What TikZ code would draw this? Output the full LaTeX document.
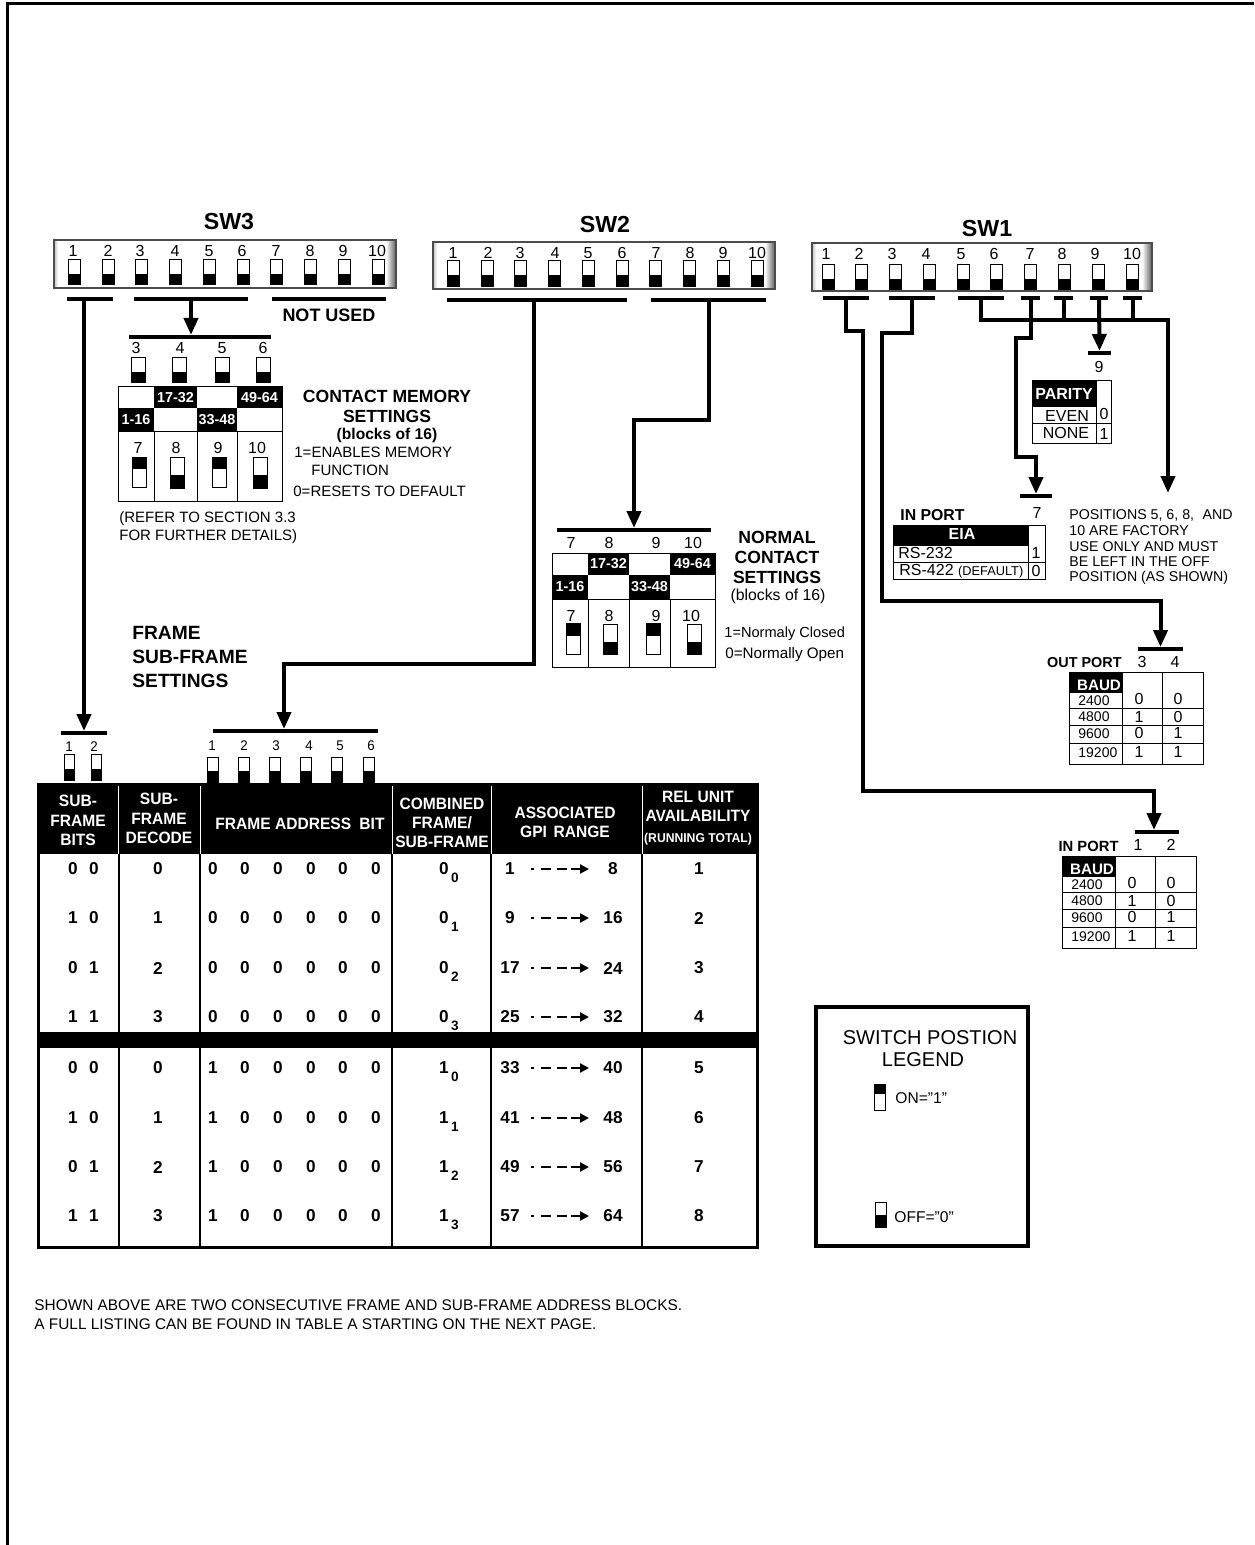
\documentclass[tikz,border=0pt]{standalone}
\usepackage{fontspec}
\setmainfont{Liberation Sans}
\newfontfamily\narrowfont[FakeStretch=0.95]{Liberation Sans}
\usetikzlibrary{arrows.meta}

\tikzset{
	wire/.style={line width=2pt},
	wirearrow/.style={line width=2pt,-{Triangle[length=8.5pt,width=7pt]}},
	thinbox/.style={line width=0.5pt},
	bigtitle/.style={font=\fontsize{11.6}{13}\selectfont\bfseries},
	headtxt/.style={font=\fontsize{8.8}{10}\selectfont\bfseries,align=center},
	labeltxt/.style={font=\fontsize{7.5}{9}\selectfont,anchor=west,inner sep=0},
	factorytxt/.style={font=\fontsize{7.1}{8}\selectfont,anchor=west,inner sep=0},
	notetxt/.style={font=\fontsize{7.7}{9}\selectfont,anchor=west,inner sep=0},
	numtxt/.style={font=\fontsize{8}{9}\selectfont,inner sep=0},
	tinynum/.style={font=\narrowfont\fontsize{7}{8}\selectfont,inner sep=0},
	celltxt/.style={font=\fontsize{7.2}{8}\selectfont\bfseries,text=white,inner sep=0},
	tablehead/.style={font=\narrowfont\fontsize{8.2}{9.6}\selectfont\bfseries,text=white,align=center,inner sep=0},
	tableval/.style={font=\fontsize{8.6}{10}\selectfont\bfseries,inner sep=0},
	tablesub/.style={font=\fontsize{6.8}{9}\selectfont\bfseries,inner sep=0},
	gpiarrow/.style={line width=1.2pt,dash pattern=on 1.5pt off 3.5pt on 5pt off 3pt on 5pt off 2pt on 10pt,-{Triangle[length=4.5pt,width=4.5pt]}},
}

% bus bar: name, x1, x2, y
\newcommand{\busbar}[4]{\node[fill=black,inner sep=0,outer sep=0,minimum height=2pt,minimum width={(#3-#2)*0.5pt}] (#1) at ({(#2+#3)/2},#4) {};}
% switches: x, y top, y edge of black, y bottom, half width
\newcommand{\swoff}[5]{\draw[thinbox,fill=white] (#1-#5,#2) rectangle (#1+#5,#4);\fill (#1-#5,#3) rectangle (#1+#5,#4);}
\newcommand{\swon}[5]{\draw[thinbox,fill=white] (#1-#5,#2) rectangle (#1+#5,#4);\fill (#1-#5,#2) rectangle (#1+#5,#3);}
% panel with shaded right end
\newcommand{\swpanel}[4]{
	\fill[white] (#1,#2) rectangle (#3,#4);
	\shade[left color=white,right color=black!65] (#3-10,#2) rectangle (#3,#4);
	\shade[left color=black!25,right color=white] (#1,#2) rectangle (#1+4,#4);
	\draw[line width=0.6pt,black!70] (#1,#2) rectangle (#3,#4);
}

\begin{document}
\begin{tikzpicture}[x=0.5pt,y=-0.5pt]
	\useasboundingbox (0,0) rectangle (1254,1545);
	\draw[line width=1.5pt] (7,1545) -- (7,4) -- (1254,4);

	% SW3
	\node[bigtitle] (titleSWiii) at (229,222) {SW3};
	\swpanel{54}{240}{396}{288}
	\foreach \n/\lx/\sx in {1/73/74,2/108/108,3/140/141,4/175/175,5/209/209,6/242/243,7/276/276,8/310/310,9/343/344,10/377/378}{
		\node[numtxt] (swiiin\n) at (\lx,251) {\n};
		\swoff{\sx}{260}{274}{285}{6}
	}
	\busbar{busSubA}{67}{113}{299}
	\busbar{busMemA}{134}{248}{299}
	\busbar{busUnused}{272}{386}{299}
	\node[font=\fontsize{9}{10}\selectfont\bfseries,inner sep=0] (notused) at (329,315) {NOT USED};

	\busbar{busMemB}{129}{271}{337}
	\foreach \n/\lx/\sx in {3/136/138,4/180/179,5/222/222,6/263/263}{
		\node[numtxt] (memn\n) at (\lx,348) {\n};
		\swoff{\sx}{358}{372}{383}{7}
	}

	% contact memory grid
	\fill (154,387) rectangle (197,408);
	\fill (237,387) rectangle (282,408);
	\fill (118,408) rectangle (154,432);
	\fill (197,408) rectangle (237,432);
	\draw[thinbox] (118,387) rectangle (282,501);
	\draw[thinbox] (118,432) -- (282,432);
	\foreach \gx in {154,197,237}{\draw[thinbox] (\gx,432) -- (\gx,501);}
	\node[celltxt] (memcA) at (175.5,397.5) {17-32};
	\node[celltxt] (memcB) at (259.5,397.5) {49-64};
	\node[celltxt] (memcC) at (136,420) {1-16};
	\node[celltxt] (memcD) at (217,420) {33-48};
	\node[numtxt] (memlA) at (138,448) {7};
	\node[numtxt] (memlB) at (176,448) {8};
	\node[numtxt] (memlC) at (218,448) {9};
	\node[numtxt] (memlD) at (257,448) {10};
	\swon{139}{457}{469}{487}{7}
	\swoff{177}{457}{475}{488}{7}
	\swon{219}{457}{469}{487}{7}
	\swoff{260}{457}{475}{488}{7}

	\node[headtxt] (memtitle) at (387,406) {CONTACT MEMORY\\SETTINGS};
	\node[font=\fontsize{7.8}{9}\selectfont\bfseries,inner sep=0] (memblocks) at (387,435) {(blocks of 16)};
	\node[labeltxt] (memA) at (294,452) {1=ENABLES MEMORY};
	\node[labeltxt] (memB) at (311,470) {FUNCTION};
	\node[labeltxt] (memC) at (293,491) {0=RESETS TO DEFAULT};
	\node[labeltxt] (memD) at (119,519) {(REFER TO SECTION 3.3};
	\node[labeltxt] (memE) at (119,537) {FOR FURTHER DETAILS)};

	% SW2
	\node[bigtitle] (titleSWii) at (605,225) {SW2};
	\swpanel{433}{242}{775}{289}
	\foreach \n/\lx/\sx in {1/453/453,2/488/487,3/520/520,4/555/554,5/588/588,6/622/622,7/656/655,8/690/689,9/723/723,10/757/757}{
		\node[numtxt] (swiin\n) at (\lx,253) {\n};
		\swoff{\sx}{261}{275}{287}{6}
	}
	\busbar{busFrameA}{447}{627}{300}
	\busbar{busNormA}{651}{766}{300}
	\busbar{busNormB}{557}{711}{530}
	\foreach \n/\lx in {7/571,8/609,9/656,10/693}{
		\node[numtxt] (normn\n) at (\lx,543) {\n};
	}

	% normal contact grid
	\fill (588,553) rectangle (629,575);
	\fill (670,553) rectangle (715,575);
	\fill (552,575) rectangle (588,599);
	\fill (629,575) rectangle (670,599);
	\draw[thinbox] (552,553) rectangle (715,667);
	\draw[thinbox] (552,599) -- (715,599);
	\foreach \gx in {588,629,670}{\draw[thinbox] (\gx,599) -- (\gx,667);}
	\node[celltxt] (normcA) at (608.5,564) {17-32};
	\node[celltxt] (normcB) at (692.5,564) {49-64};
	\node[celltxt] (normcC) at (570,587) {1-16};
	\node[celltxt] (normcD) at (649.5,587) {33-48};
	\node[numtxt] (normlA) at (571,616) {7};
	\node[numtxt] (normlB) at (609,616) {8};
	\node[numtxt] (normlC) at (656,616) {9};
	\node[numtxt] (normlD) at (691,616) {10};
	\swon{573}{623}{636}{654}{7}
	\swoff{610}{624}{642}{654}{7}
	\swon{653}{623}{636}{654}{7}
	\swoff{694}{624}{642}{654}{7}
	\node[headtxt] (normtitle) at (777,557) {NORMAL\\CONTACT\\SETTINGS};
	\node[numtxt,font=\fontsize{7.9}{9}\selectfont] (normblocks) at (778,596) {(blocks of 16)};
	\node[labeltxt,font=\fontsize{7.3}{9}\selectfont] (normA) at (724,634) {1=Normaly Closed};
	\node[labeltxt,font=\fontsize{7.6}{9}\selectfont] (normB) at (725,655) {0=Normally Open};
	\node[headtxt,align=left,anchor=north west,inner sep=0,font=\fontsize{9.6}{12}\selectfont\bfseries] (frametitle) at (132,626) {FRAME\\SUB-FRAME\\SETTINGS};

	% SW1
	\node[bigtitle] (titleSWi) at (987,229) {SW1};
	\swpanel{812}{243}{1152}{291}
	\foreach \n/\lx/\sx in {1/826/828,2/859/861,3/892/895,4/926/929,5/961/963,6/994/996,7/1030/1030,8/1062/1064,9/1095/1098,10/1132/1132}{
		\node[numtxt] (swin\n) at (\lx,254) {\n};
		\swoff{\sx}{265}{279}{290}{6}
	}
	\busbar{busInA}{823}{869}{298}
	\busbar{busOutA}{889}{935}{298}
	\busbar{busFive}{958}{1004}{298}
	\busbar{busSeven}{1021}{1040}{298}
	\busbar{busEight}{1054}{1073}{298}
	\busbar{busNine}{1090}{1108}{298}
	\busbar{busTen}{1123}{1142}{298}
	\busbar{busNineB}{1088}{1111}{353}
	\busbar{busSevenB}{1020}{1052}{496}
	\busbar{busOutB}{1138}{1183}{649}
	\busbar{busInB}{1135}{1179}{832}
	\node[numtxt] (ninelbl) at (1099,367) {9};
	\node[numtxt] (sevenlbl) at (1037,513) {7};

	% parity
	\fill (1032,381) rectangle (1096,407);
	\draw[thinbox] (1032,381) rectangle (1111,444);
	\draw[thinbox] (1032,424) -- (1111,424);
	\draw[thinbox] (1032,407) -- (1096,407);
	\draw[thinbox] (1096,381) -- (1096,444);
	\node[celltxt,font=\fontsize{8}{9}\selectfont\bfseries] (paritytxt) at (1064,394) {PARITY};
	\node[numtxt] (evenlbl) at (1067,416) {EVEN};
	\node[numtxt] (nonelbl) at (1066,433) {NONE};
	\node[numtxt] (evenval) at (1104,414) {0};
	\node[numtxt] (noneval) at (1104,434) {1};

	% eia
	\node[font=\fontsize{7.9}{9}\selectfont\bfseries,anchor=west,inner sep=0] (inportA) at (900,515) {IN PORT};
	\fill (893,525) rectangle (1028,545);
	\draw[thinbox] (893,525) rectangle (1045,579);
	\draw[thinbox] (893,562) -- (1045,562);
	\draw[thinbox] (893,545) -- (1028,545);
	\draw[thinbox] (1028,525) -- (1028,579);
	\node[celltxt,font=\fontsize{8}{9}\selectfont\bfseries] (eiatxt) at (962,534) {EIA};
	\node[numtxt,anchor=west] (eiaA) at (898,553) {RS-232};
	\node[numtxt,anchor=west] (eiaB) at (899,571) {RS-422 {\fontsize{6.4}{8}\selectfont(DEFAULT)}};
	\node[numtxt] (eiaAval) at (1036,553) {1};
	\node[numtxt] (eiaBval) at (1036,571) {0};
	\node[factorytxt] (factA) at (1069,515) {POSITIONS 5, 6, 8,\hspace{0.6em}AND};
	\node[factorytxt] (factB) at (1069,531) {10 ARE FACTORY};
	\node[factorytxt] (factC) at (1069,547) {USE ONLY AND MUST};
	\node[factorytxt] (factD) at (1069,562) {BE LEFT IN THE OFF};
	\node[factorytxt] (factE) at (1069,578) {POSITION (AS SHOWN)};

	% baud tables
	\node[font=\fontsize{7.2}{9}\selectfont\bfseries,anchor=east,inner sep=0] (outport) at (1122,663) {OUT PORT};
	\node[numtxt] (outn3) at (1142,662) {3};
	\node[numtxt] (outn4) at (1175,662) {4};
	\node[font=\fontsize{7.4}{9}\selectfont\bfseries,anchor=east,inner sep=0] (inportB) at (1119,846) {IN PORT};
	\node[numtxt] (inn1) at (1138,845) {1};
	\node[numtxt] (inn2) at (1171,845) {2};
	\foreach \dx/\dy/\tb in {0/0/o,-7/184/i}{
		\begin{scope}[shift={(\dx,\dy)}]
			\fill (1069,672) rectangle (1122,692);
			\draw[thinbox] (1069,672) rectangle (1203,764);
			\draw[thinbox] (1122,672) -- (1122,764);
			\draw[thinbox] (1162,672) -- (1162,764);
			\draw[thinbox] (1069,692) -- (1122,692);
			\foreach \gy in {708,725,743}{\draw[thinbox] (1069,\gy) -- (1203,\gy);}
			\node[celltxt,font=\fontsize{7.6}{9}\selectfont\bfseries] (baud\tb) at (1099,685) {BAUD};
			\foreach \ly/\vy/\rate/\va/\vb in {701/699/2400/0/0,717/717/4800/1/0,734/733/9600/0/1,753/752/19200/1/1}{
				\node[numtxt,font=\fontsize{7}{8}\selectfont,anchor=west] (rate\tb\rate) at (1078,\ly) {\rate};
				\node[numtxt] (va\tb\rate) at (1139,\vy) {\va};
				\node[numtxt] (vb\tb\rate) at (1178,\vy) {\vb};
			}
		\end{scope}
	}

	% frame table
	\busbar{busSubB}{61}{107}{733}
	\busbar{busFrameB}{213}{378}{731}
	\foreach \lx/\sx/\n in {69/69/1,94/96/2}{
		\node[tinynum] (subn\n) at (\lx,747) {\n};
		\swoff{\sx}{754}{769}{780}{5}
	}
	\foreach \lx/\sx/\n in {212/212.5/1,244/243.5/2,276/275/3,309/306/4,340/337/5,371/369/6}{
		\node[tinynum] (framen\n) at (\lx,746) {\n};
		\swoff{\sx}{757}{771}{782}{5.5}
	}
	\fill (38,784) rectangle (757,854);
	\fill (38,1032) rectangle (757,1048);
	\foreach \gx in {118.5,200,392,491,642}{
		\draw[line width=0.3pt,white] (\gx,784) -- (\gx,854);
		\draw[line width=1pt] (\gx,854) -- (\gx,1032);
		\draw[line width=1pt] (\gx,1048) -- (\gx,1247);
	}
	\draw[line width=1.5pt] (38,784) rectangle (757,1247);
	\node[tablehead] (thA) at (78,820.5) {SUB-\\FRAME\\BITS};
	\node[tablehead] (thB) at (159,818.5) {SUB-\\FRAME\\DECODE};
	\node[tablehead] (thC) at (300,824) {FRAME ADDRESS\hspace{0.5em}BIT};
	\node[tablehead] (thD) at (442,823) {COMBINED\\FRAME/\\SUB-FRAME};
	\node[tablehead] (thE) at (565,822.5) {ASSOCIATED\\GPI\hspace{0.4em}RANGE};
	\node[tablehead] (thF) at (698,806) {REL UNIT\\AVAILABILITY};
	\node[tablehead,font=\narrowfont\fontsize{6.4}{8}\selectfont\bfseries] (thG) at (698,839) {(RUNNING TOTAL)};
	\foreach \ry/\bitA/\bitB/\dec/\fra/\sbs/\lo/\hi/\rel in {
		869/0/0/0/0/0/1/8/1,918/1/0/1/0/1/9/16/2,968/0/1/2/0/2/17/24/3,1017/1/1/3/0/3/25/32/4,
		1068/0/0/0/1/0/33/40/5,1118/1/0/1/1/1/41/48/6,1167/0/1/2/1/2/49/56/7,1216/1/1/3/1/3/57/64/8}{
		\node[tableval] (bitA\ry) at (73,\ry) {\bitA};
		\node[tableval] (bitB\ry) at (94,\ry) {\bitB};
		\node[tableval] (dec\ry) at (158,\ry) {\dec};
		\node[tableval] (fra\ry) at (213,\ry) {\fra};
		\foreach \gx in {245,278,311,343,376}{
			\node[tableval] (fr\gx\ry) at (\gx,\ry) {0};
		}
		\node[tableval] (comb\ry) at (444,\ry) {\fra};
		\node[tablesub] (sub\ry) at (455,\ry+9) {\sbs};
		\node[tableval] (gpiL\ry) at (510,\ry) {\lo};
		\node[tableval] (gpiH\ry) at (613,\ry) {\hi};
		\node[tableval] (rel\ry) at (699,\ry) {\rel};
		\coordinate (gpiS\ry) at (531,\ry);
		\coordinate (gpiE\ry) at (589,\ry);
		\draw[gpiarrow] (gpiS\ry) -- (gpiE\ry);
	}

	% legend
	\draw[line width=1.7pt] (816,1007) rectangle (1028,1246);
	\node[font=\fontsize{10}{12}\selectfont,inner sep=0] (legendA) at (930,1038) {SWITCH POSTION};
	\node[font=\fontsize{10}{12}\selectfont,inner sep=0] (legendB) at (923,1060) {LEGEND};
	\swon{880}{1084}{1094}{1110}{5.5}
	\swoff{881}{1202}{1215}{1227}{5.5}
	\node[labeltxt,font=\fontsize{7.8}{9}\selectfont] (legendon) at (895,1098) {ON="1"};
	\node[labeltxt,font=\fontsize{7.8}{9}\selectfont] (legendoff) at (894,1217) {OFF="0"};

	% note
	\node[notetxt] (noteA) at (34,1305) {SHOWN ABOVE ARE TWO CONSECUTIVE FRAME AND SUB-FRAME ADDRESS BLOCKS.};
	\node[notetxt] (noteB) at (34,1324) {A FULL LISTING CAN BE FOUND IN TABLE A STARTING ON THE NEXT PAGE.};

	% connectors
	\coordinate (turnFrame) at (534,664);
	\coordinate (frameIn) at (284,729);
	\coordinate (inIn) at (1154,830);
	\coordinate (factoryTurn) at (1168,320);
	\coordinate (factoryEnd) at (1168,493);
	\draw[wirearrow] (busSubB.north |- busSubA.south) -- (busSubB.north);
	\draw[wirearrow] (busMemA.south) -- (busMemA.south |- busMemB.north);
	\draw[wirearrow] (turnFrame |- busFrameA.south) -- (turnFrame) -| (frameIn);
	\draw[wirearrow] (busNormA.south) -- ++(0,118) -| (busNormB.north);
	\draw[wirearrow] (busInA.south) -- ++(0,31) -- ++(17,0) -- ++(0,460) -| (inIn);
	\draw[wirearrow] (busOutA.south) -- ++(0,33) -- ++(-30,0) -- ++(0,268) -| (busOutB.north);
	\draw[wirearrow] (busFive.south) |- (factoryTurn) -- (factoryEnd);
	\draw[wire] (busEight.south) -- (busEight.south |- factoryTurn);
	\draw[wire] (busTen.south) -- (busTen.south |- factoryTurn);
	\draw[wirearrow] (busSeven.south) -- ++(0,38) -- ++(-15,0) -- ++(0,119) -| (busSevenB.north);
	\draw[wirearrow] (busNine.south) -- (busNineB.north);
\end{tikzpicture}
\end{document}
